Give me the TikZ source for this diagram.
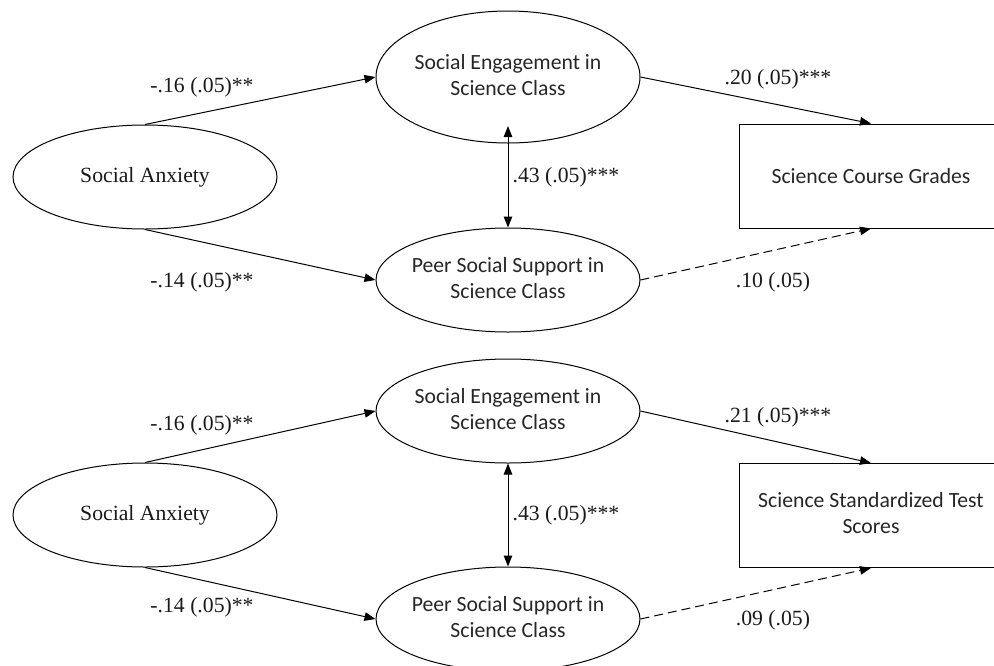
\documentclass[tikz,border=0pt]{standalone}
\usepackage{fontspec}
\setmainfont{Liberation Serif}
\newfontfamily\calibfont{Carlito}
\usetikzlibrary{shapes.geometric,arrows.meta}
\newcommand\twolines[2]{\makebox[0pt]{\begin{tabular}{@{}c@{}}#1\\#2\end{tabular}}}
\begin{document}
\begin{tikzpicture}[x=1pt,y=-1pt,
  latent/.style={draw, ellipse, inner sep=0pt, minimum width=264pt, minimum height=104pt,
    line width=1pt, font=\calibfont\fontsize{21.7}{26}\selectfont, text=black!85},
  anxiety/.style={latent, font=\fontsize{21.7}{26}\selectfont, text=black!90},
  observed/.style={draw, rectangle, inner sep=0pt, minimum width=264pt, minimum height=104pt,
    line width=1pt, font=\calibfont\fontsize{21.7}{26}\selectfont, text=black!85},
  path/.style={-{Triangle[length=11pt,width=8.5pt]}, line width=1pt},
  dashpath/.style={path, dash pattern=on 9pt off 5pt},
  twoway/.style={{Triangle[length=11pt,width=8.5pt]}-{Triangle[length=11pt,width=8.5pt]}, line width=1pt},
  coef/.style={inner sep=0pt, font=\fontsize{21.7}{26}\selectfont, text=black!90}]
\useasboundingbox (0,0) rectangle (994,665);
\clip (0,0) rectangle (994,665);

% ---------- top model ----------
\node[anxiety] (sa1) at (145,177) {\makebox[0pt]{Social Anxiety}};
\node[latent, minimum height=132pt] (se1) at (508,77) {\twolines{Social Engagement in}{Science Class}};
\node[latent] (pe1) at (508,280) {\twolines{Peer Social Support in}{Science Class}};
\node[observed] (out1) at (871,176) {\makebox[0pt]{Science Course Grades}};
\coordinate (se1tip) at (508,126);

\draw[path] (sa1.north) -- (se1.west);
\draw[path] (sa1.south) -- (pe1.west);
\draw[path] (se1.east) -- (out1.north);
\draw[dashpath] (pe1.east) -- (out1.south);
\draw[twoway] (se1tip) -- (pe1.north);

\node[coef] (c11) at (202,87) {-.16 (.05)**};
\node[coef] (c12) at (202,282) {-.14 (.05)**};
\node[coef] (c13) at (778,79) {.20 (.05)***};
\node[coef] (c14) at (566,177) {.43 (.05)***};
\node[coef] (c15) at (773,282) {.10 (.05)};

% ---------- bottom model ----------
\node[anxiety] (sa2) at (145,515) {\makebox[0pt]{Social Anxiety}};
\node[latent] (se2) at (508,411) {\twolines{Social Engagement in}{Science Class}};
\node[latent] (pe2) at (508,619) {\twolines{Peer Social Support in}{Science Class}};
\node[observed] (out2) at (871,515.5) {\twolines{Science Standardized Test}{Scores}};

\draw[path] (sa2.north) -- (se2.west);
\draw[path] (sa2.south) -- (pe2.west);
\draw[path] (se2.east) -- (out2.north);
\draw[dashpath] (pe2.east) -- (out2.south);
\draw[twoway] (se2.south) -- (pe2.north);

\node[coef] (c21) at (202,425) {-.16 (.05)**};
\node[coef] (c22) at (202,607) {-.14 (.05)**};
\node[coef] (c23) at (778,417) {.21 (.05)***};
\node[coef] (c24) at (566,515) {.43 (.05)***};
\node[coef] (c25) at (773,620) {.09 (.05)};
\end{tikzpicture}
\end{document}
